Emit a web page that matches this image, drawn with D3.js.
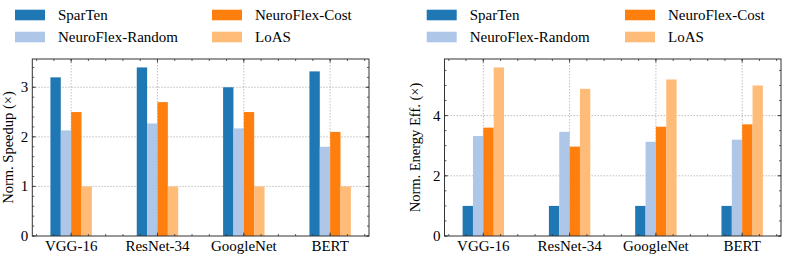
<!DOCTYPE html>
<html>
<head>
<meta charset="utf-8">
<script src="https://cdn.jsdelivr.net/npm/d3@7"></script>
<style>
  body { margin: 0; background: #fff; }
  text { font-family: "Liberation Serif", "DejaVu Serif", serif; }
</style>
</head>
<body>
<div id="content"></div>
<script>
(function(d3) {

   // data
   var models = ["VGG-16", "ResNet-34", "GoogleNet", "BERT"];
   var methods = ["SparTen", "NeuroFlex-Random", "NeuroFlex-Cost", "LoAS"];
   var colors = ["#1f77b4", "#aec7e8", "#ff7f0e", "#ffbb78"];

   // speedup, one row per method
   var speedup = [
      [3.20, 3.40, 3.00, 3.32],
      [2.13, 2.27, 2.17, 1.80],
      [2.50, 2.70, 2.50, 2.10],
      [1.00, 1.00, 1.00, 1.00]
   ];
   var energy = [
      [1.00, 1.00, 1.00, 1.00],
      [3.32, 3.46, 3.13, 3.20],
      [3.60, 2.97, 3.63, 3.71],
      [5.60, 4.89, 5.20, 5.00]
   ];

   var speedupTicks = [0, 1, 2, 3];
   var energyTicks = [0, 2, 4];

   var win_width = 785;
   var win_height = 257;

   var svg = d3.select("#content")
      .append("svg")
      .attr("width", win_width)
      .attr("height", win_height)
      .attr("font-family", "'Liberation Serif', 'DejaVu Serif', serif");

   var barW = 0.12; // in category units
   var fontSize = 15;

   function panel(opts) {
      var left = opts.left, right = opts.right, top = 59, bottom = 236;
      var g = svg.append("g");

      var x = d3.scaleLinear().domain([-0.45, models.length - 0.55]).range([left, right]);
      var y = d3.scaleLinear().domain([0, opts.ymax]).range([bottom, top]);

      // grid
      g.selectAll(".gx").data(models).enter().append("line")
         .attr("x1", function(d, i) { return x(i); })
         .attr("x2", function(d, i) { return x(i); })
         .attr("y1", top).attr("y2", bottom)
         .attr("stroke", "#b0b0b0").attr("stroke-width", 0.8)
         .attr("stroke-dasharray", "1.5,1.5");
      g.selectAll(".gy").data(opts.ticks.slice(1)).enter().append("line")
         .attr("x1", left).attr("x2", right)
         .attr("y1", function(d) { return y(d); })
         .attr("y2", function(d) { return y(d); })
         .attr("stroke", "#b0b0b0").attr("stroke-width", 0.8)
         .attr("stroke-dasharray", "1.5,1.5");

      // bars
      opts.values.forEach(function(row, k) {
         g.selectAll(".b" + k).data(row).enter().append("rect")
            .attr("x", function(d, i) { return x(i + (k - 2) * barW); })
            .attr("width", x(barW) - x(0))
            .attr("y", function(d) { return y(d); })
            .attr("height", function(d) { return y(0) - y(d); })
            .attr("fill", colors[k]);
      });

      // minor ticks
      var xMinor = d3.range(-0.4, models.length - 0.5, 0.2);
      var yMinor = d3.range(0, opts.ymax, opts.minor);
      var tk = g.append("g").attr("stroke", "#333").attr("stroke-width", 0.8);
      xMinor.forEach(function(v) {
         tk.append("line").attr("x1", x(v)).attr("x2", x(v)).attr("y1", bottom).attr("y2", bottom - 2);
         tk.append("line").attr("x1", x(v)).attr("x2", x(v)).attr("y1", top).attr("y2", top + 2);
      });
      yMinor.forEach(function(v) {
         tk.append("line").attr("x1", left).attr("x2", left + 2).attr("y1", y(v)).attr("y2", y(v));
         tk.append("line").attr("x1", right).attr("x2", right - 2).attr("y1", y(v)).attr("y2", y(v));
      });
      models.forEach(function(m, i) {
         tk.append("line").attr("x1", x(i)).attr("x2", x(i)).attr("y1", bottom).attr("y2", bottom - 3.5);
         tk.append("line").attr("x1", x(i)).attr("x2", x(i)).attr("y1", top).attr("y2", top + 3.5);
      });
      opts.ticks.forEach(function(v) {
         tk.append("line").attr("x1", left).attr("x2", left + 3.5).attr("y1", y(v)).attr("y2", y(v));
         tk.append("line").attr("x1", right).attr("x2", right - 3.5).attr("y1", y(v)).attr("y2", y(v));
      });

      // frame
      g.append("rect")
         .attr("x", left).attr("y", top)
         .attr("width", right - left).attr("height", bottom - top)
         .attr("fill", "none").attr("stroke", "#333").attr("stroke-width", 1);

      // tick labels
      g.selectAll(".xl").data(models).enter().append("text")
         .attr("x", function(d, i) { return x(i); })
         .attr("y", 251)
         .attr("text-anchor", "middle")
         .style("font-size", fontSize + "px")
         .text(function(d) { return d; });
      g.selectAll(".yl").data(opts.ticks).enter().append("text")
         .attr("x", left - 4)
         .attr("y", function(d) { return y(d) + 5; })
         .attr("text-anchor", "end")
         .style("font-size", fontSize + "px")
         .text(function(d) { return d; });

      g.append("text")
         .attr("transform", "translate(" + opts.labelX + "," + ((top + bottom) / 2) + ") rotate(-90)")
         .attr("text-anchor", "middle")
         .style("font-size", "14.5px")
         .text(opts.label);

      // legend: two columns, filled column by column
      methods.forEach(function(m, k) {
         var col = k < 2 ? 0 : 1;
         var row = k % 2;
         var lx = opts.legendX[col];
         var ly = row === 0 ? 15 : 37;
         g.append("rect")
            .attr("x", lx).attr("y", ly - 5.3)
            .attr("width", 30).attr("height", 10.6)
            .attr("fill", colors[k]);
         g.append("text")
            .attr("x", lx + 43).attr("y", ly + 5)
            .style("font-size", fontSize + "px")
            .text(m);
      });
   }

   panel({ left: 32.3, right: 369, ymax: 3.57, ticks: speedupTicks, minor: 0.2,
           values: speedup, label: "Norm. Speedup (\u00d7)", labelX: 13, legendX: [15, 212] });
   panel({ left: 444.5, right: 781, ymax: 5.88, ticks: energyTicks, minor: 0.5,
           values: energy, label: "Norm. Energy Eff. (\u00d7)", labelX: 420, legendX: [426.7, 625] });

})(window.d3);
</script>
</body>
</html>
